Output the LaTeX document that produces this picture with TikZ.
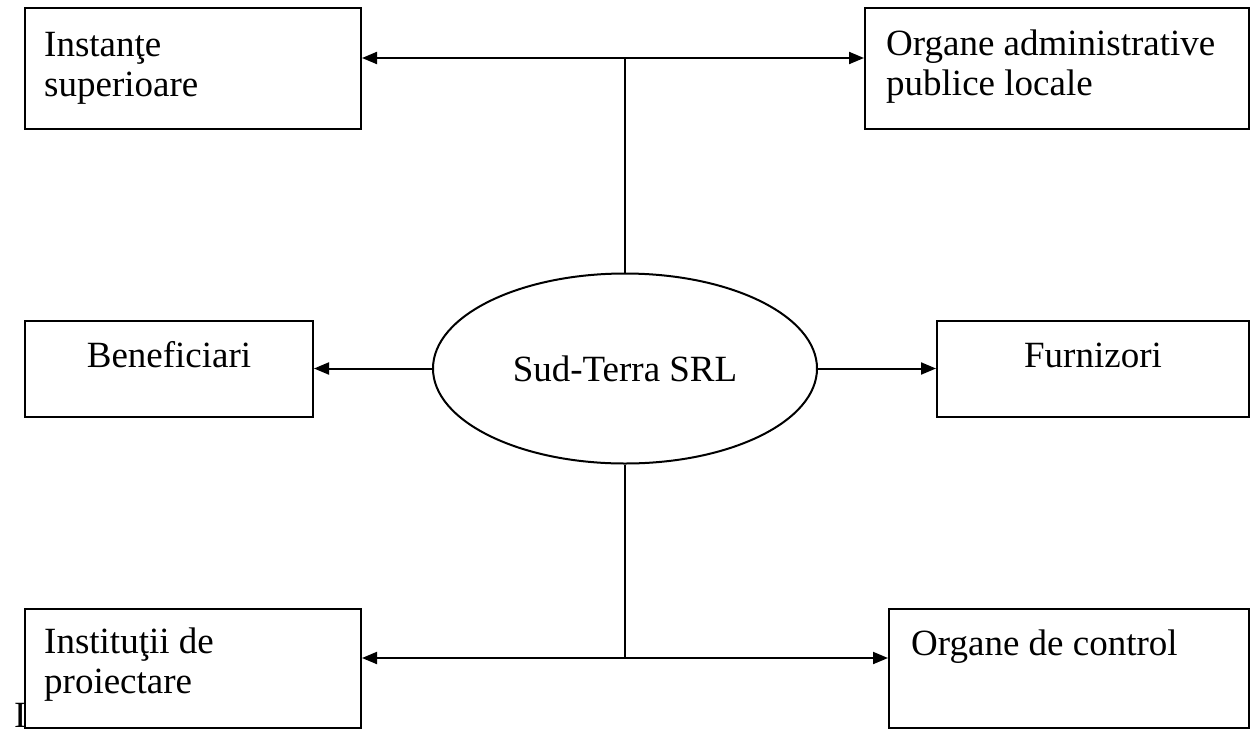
\documentclass[tikz,border=0pt]{standalone}
\usepackage{fontspec}
\setmainfont{Liberation Serif}
\usetikzlibrary{shapes.geometric,arrows.meta}
\begin{document}
\begin{tikzpicture}[x=1pt,y=-1pt,
  boxnode/.style={draw=black,fill=white,line width=2pt,inner sep=0pt,rectangle},
  txt/.style={font=\fontsize{37}{40}\selectfont,inner sep=0pt,align=left},
  conn/.style={line width=2pt},
  arr/.style={conn,-{Triangle[length=15pt,width=12pt]}},
  darr/.style={conn,{Triangle[length=15pt,width=12pt]}-{Triangle[length=15pt,width=12pt]}}
]
\useasboundingbox (0,0) rectangle (1250,729);
% stray letter behind the lower-left box
\node[txt,anchor=base west] (stray) at (14,727) {I};
% boxes
\node[boxnode,minimum width=336pt,minimum height=121pt] (b1) at (193,68.5) {};
\node[boxnode,minimum width=384pt,minimum height=121pt] (b2) at (1057,68.5) {};
\node[boxnode,minimum width=288pt,minimum height=96pt] (b3) at (169,368.5) {};
\node[boxnode,minimum width=312pt,minimum height=96pt] (b4) at (1093,368.5) {};
\node[boxnode,minimum width=336pt,minimum height=119pt] (b5) at (193,668.5) {};
\node[boxnode,minimum width=360pt,minimum height=119pt] (b6) at (1069,668.5) {};
\node[draw=black,line width=2pt,ellipse,inner sep=0pt,minimum width=384pt,minimum height=190pt,font=\fontsize{37}{40}\selectfont] (ell) at (625,368.5) {Sud-Terra SRL};
% texts
\node[txt,anchor=base west] (t1) at (44,96) {Instanţe\\superioare};
\node[txt,anchor=base west] (t2) at (886,95) {Organe administrative\\publice locale};
\node[txt,anchor=base] (t3) at (169,367) {Beneficiari};
\node[txt,anchor=base] (t4) at (1093,367) {Furnizori};
\node[txt,anchor=base west] (t5) at (44,693) {Instituţii de\\proiectare};
\node[txt,anchor=base west] (t6) at (911,655) {Organe de control};
% connectors
\coordinate (tj) at (625,58);
\coordinate (bj) at (625,658);
\draw[darr] (b1.east |- tj) -- (b2.west |- tj);
\draw[conn] (tj) -- (ell.north);
\draw[arr] (ell.west) -- (b3.east);
\draw[arr] (ell.east) -- (b4.west);
\draw[conn] (ell.south) -- (bj);
\draw[darr] (b5.east |- bj) -- (b6.west |- bj);
\end{tikzpicture}
\end{document}
